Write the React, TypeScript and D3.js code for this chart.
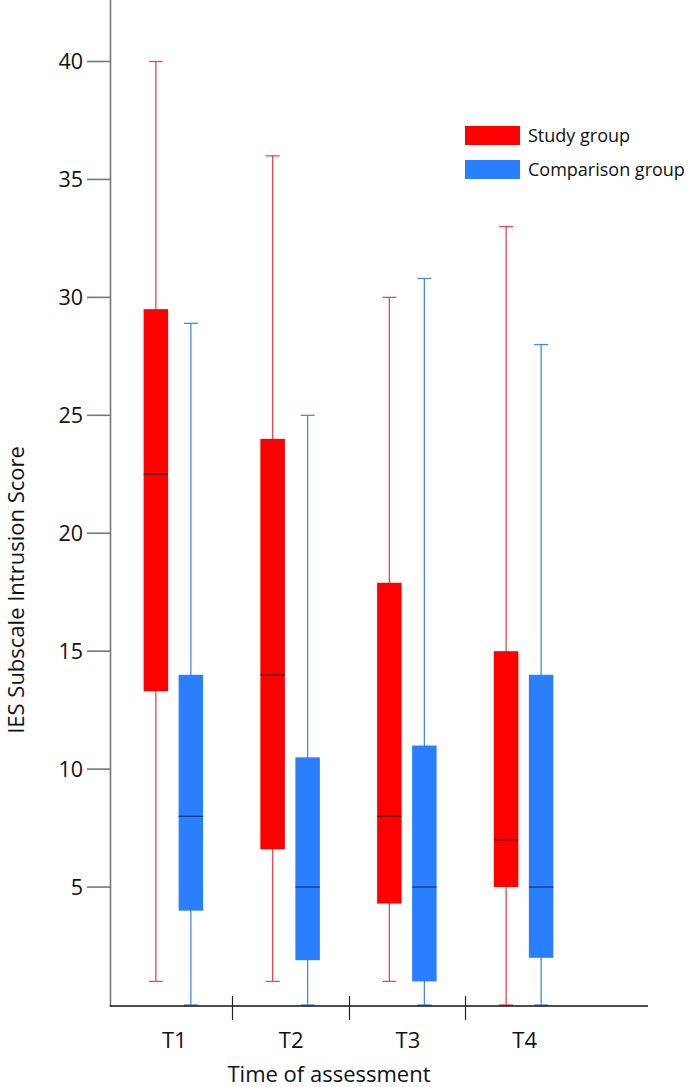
import React, { useEffect, useRef } from "react";
import * as d3 from "d3";

const times = ["T1", "T2", "T3", "T4"];
const groups = ["Study group", "Comparison group"];

// five-number summaries per time point
const studyMin = [1, 1, 1, 0];
const studyQ1 = [13.3, 6.6, 4.3, 5];
const studyMedian = [22.5, 14, 8, 7];
const studyQ3 = [29.5, 24, 17.9, 15];
const studyMax = [40, 36, 30, 33];

const compMin = [0, 0, 0, 0];
const compQ1 = [4, 1.9, 1, 2];
const compMedian = [8, 5, 5, 5];
const compQ3 = [14, 10.5, 11, 14];
const compMax = [28.9, 25, 30.8, 28];

const yTicks = [5, 10, 15, 20, 25, 30, 35, 40];

const fills = ["#ff0000", "#2a7fff"];
const whiskerColors = ["#e8474c", "#4a88dc"];
const medianColors = ["#5a0000", "#15366e"];

type Box = {
  time: string;
  group: string;
  gi: number;
  min: number;
  q1: number;
  median: number;
  q3: number;
  max: number;
};

const boxes: Box[] = [];
times.forEach((t, i) => {
  boxes.push({ time: t, group: groups[0], gi: 0, min: studyMin[i], q1: studyQ1[i], median: studyMedian[i], q3: studyQ3[i], max: studyMax[i] });
  boxes.push({ time: t, group: groups[1], gi: 1, min: compMin[i], q1: compQ1[i], median: compMedian[i], q3: compQ3[i], max: compMax[i] });
});

const App = () => {
  const ref = useRef<SVGSVGElement>(null);

  useEffect(() => {
    const svg = d3.select(ref.current);
    svg.selectAll("*").remove();

    const width = 693;
    const height = 1087;
    const font = "'Open Sans', 'Noto Sans', sans-serif";
    svg.attr("width", width).attr("height", height);

    const axisX = 110.5;
    const y = d3.scaleLinear().domain([0, 40]).range([1005, 61.5]);
    const x = d3.scaleBand().domain(times).range([115, 582]).paddingInner(0);
    const xSub = d3.scaleBand().domain(groups).range([-29.75, 29.75]).paddingInner(0.3);
    const bw = xSub.bandwidth();
    const center = (d: Box) => (x(d.time) as number) + x.bandwidth() / 2 + (xSub(d.group) as number) + bw / 2;

    // whiskers
    svg.selectAll(".whisker")
      .data(boxes)
      .enter()
      .append("line")
      .attr("x1", (d) => center(d))
      .attr("x2", (d) => center(d))
      .attr("y1", (d) => y(d.max))
      .attr("y2", (d) => y(d.min))
      .attr("stroke", (d) => whiskerColors[d.gi])
      .attr("stroke-width", 1.3);

    // caps
    const caps = svg.append("g");
    boxes.forEach((d) => {
      [d.min, d.max].forEach((v) => {
        caps.append("line")
          .attr("x1", center(d) - 7)
          .attr("x2", center(d) + 7)
          .attr("y1", y(v))
          .attr("y2", y(v))
          .attr("stroke", whiskerColors[d.gi])
          .attr("stroke-width", 1.3);
      });
    });

    // boxes
    svg.selectAll(".box")
      .data(boxes)
      .enter()
      .append("rect")
      .attr("x", (d) => center(d) - bw / 2)
      .attr("y", (d) => y(d.q3))
      .attr("width", bw)
      .attr("height", (d) => y(d.q1) - y(d.q3))
      .attr("fill", (d) => fills[d.gi]);

    // medians
    svg.selectAll(".median")
      .data(boxes)
      .enter()
      .append("line")
      .attr("x1", (d) => center(d) - bw / 2)
      .attr("x2", (d) => center(d) + bw / 2)
      .attr("y1", (d) => y(d.median))
      .attr("y2", (d) => y(d.median))
      .attr("stroke", (d) => medianColors[d.gi])
      .attr("stroke-width", 1.2);

    // y axis
    svg.append("line")
      .attr("x1", axisX).attr("x2", axisX)
      .attr("y1", 0).attr("y2", 1006)
      .attr("stroke", "#777").attr("stroke-width", 1.6);

    const yt = svg.append("g");
    yTicks.forEach((t) => {
      yt.append("line")
        .attr("x1", 87).attr("x2", axisX)
        .attr("y1", y(t)).attr("y2", y(t))
        .attr("stroke", "#777").attr("stroke-width", 1.6);
      yt.append("text")
        .attr("x", 83)
        .attr("y", y(t))
        .attr("dy", "0.36em")
        .attr("text-anchor", "end")
        .style("font-family", font)
        .style("font-size", "21.5px")
        .style("fill", "#111")
        .text(t);
    });

    svg.append("text")
      .attr("transform", `translate(16, 590) rotate(-90)`)
      .attr("text-anchor", "middle")
      .attr("dy", "0.35em")
      .style("font-family", font)
      .style("font-size", "22px")
      .style("fill", "#111")
      .text("IES Subscale Intrusion Score");

    // x axis
    svg.append("line")
      .attr("x1", axisX - 0.8).attr("x2", 648)
      .attr("y1", 1006).attr("y2", 1006)
      .attr("stroke", "#111").attr("stroke-width", 1.3);

    times.slice(1).forEach((t) => {
      const xs = Math.round(x(t) as number) + 0.5;
      svg.append("line")
        .attr("x1", xs).attr("x2", xs)
        .attr("y1", 996).attr("y2", 1020)
        .attr("stroke", "#222").attr("stroke-width", 1.2);
    });

    svg.selectAll(".xlabel")
      .data(times)
      .enter()
      .append("text")
      .attr("x", (d) => (x(d) as number) + x.bandwidth() / 2 + 1)
      .attr("y", 1048)
      .attr("text-anchor", "middle")
      .style("font-family", font)
      .style("font-size", "22px")
      .style("fill", "#111")
      .text((d) => d);

    svg.append("text")
      .attr("x", 329)
      .attr("y", 1082)
      .attr("text-anchor", "middle")
      .style("font-family", font)
      .style("font-size", "22px")
      .style("fill", "#111")
      .text("Time of assessment");

    // legend
    const legend = svg.append("g");
    groups.forEach((g, i) => {
      legend.append("rect")
        .attr("x", 465)
        .attr("y", 126 + i * 34)
        .attr("width", 55)
        .attr("height", 19)
        .attr("fill", fills[i]);
      legend.append("text")
        .attr("x", 528)
        .attr("y", 136 + i * 34)
        .attr("dy", "0.35em")
        .style("font-family", font)
        .style("font-size", "18px")
        .style("fill", "#111")
        .text(g);
    });
  }, []);

  return <svg ref={ref} style={{ position: "absolute", left: 0, top: 0 }}></svg>;
};

export default App;
